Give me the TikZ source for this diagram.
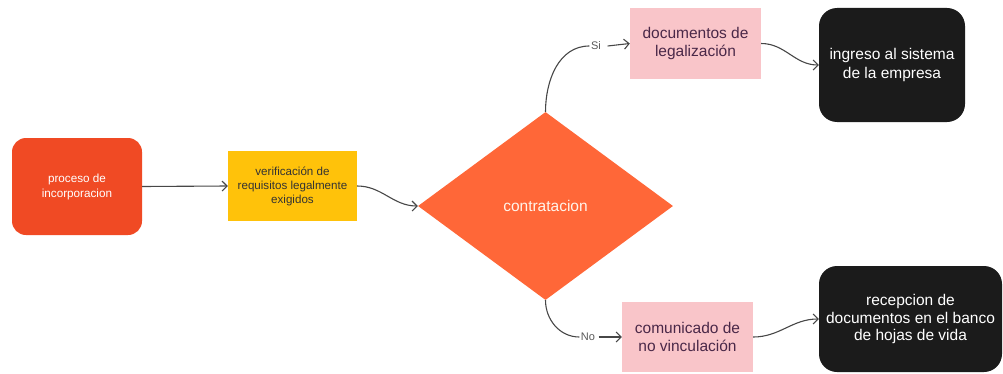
\documentclass[tikz,border=0pt]{standalone}
\usepackage{fontspec}
\setmainfont{Liberation Sans}
\usetikzlibrary{shapes.geometric,arrows.meta}

\definecolor{procred}{HTML}{F04A24}
\definecolor{verifyellow}{HTML}{FFC20A}
\definecolor{decorange}{HTML}{FF6738}
\definecolor{softpink}{HTML}{F9C5C9}
\definecolor{darkbox}{HTML}{1B1B1B}
\definecolor{pinktext}{HTML}{4A2848}
\definecolor{linegray}{HTML}{474747}

\tikzset{
  base/.style={inner sep=0pt, align=center, font=\fontsize{15.5}{18.5}\selectfont},
  startbox/.style={base, fill=procred, rounded corners=14pt, text=white,
    font=\fontsize{11.7}{15}\selectfont},
  checkbox/.style={base, fill=verifyellow, text=black!80,
    font=\fontsize{11.6}{14}\selectfont},
  decision/.style={base, diamond, fill=decorange, text=white!92!orange},
  pinkbox/.style={base, fill=softpink, text=pinktext},
  endbox/.style={base, fill=darkbox, rounded corners=18pt, text=white},
  branchlabel/.style={inner sep=1.5pt, fill=white, text=black!65,
    font=\fontsize{11}{12}\selectfont},
  flow/.style={draw=linegray, line width=1.1pt,
    -{Straight Barb[length=5pt,width=10pt,line width=1.1pt]}},
  link/.style={draw=linegray, line width=1.1pt},
}

\begin{document}
\begin{tikzpicture}[x=1pt,y=1pt]
  \useasboundingbox (0,0) rectangle (1003,373);

  % process nodes
  \node[startbox, minimum width=130pt, minimum height=97pt] (proc) at (77,186.5)
    {proceso de\\incorporacion};
  \node[checkbox, minimum width=129pt, minimum height=70pt] (verif) at (292.5,187)
    {verificación de\\requisitos legalmente\\exigidos};
  \node[decision, minimum width=255pt, minimum height=188pt] (dec) at (545.5,167)
    {contratacion};
  \node[pinkbox, minimum width=131pt, minimum height=71pt] (docs) at (695.5,329.5)
    {documentos de\\legalización};
  \node[endbox, minimum width=146pt, minimum height=114pt] (ingreso) at (892,308)
    {ingreso al sistema\\de la empresa};
  \node[pinkbox, minimum width=131pt, minimum height=70pt] (comun) at (687.5,36)
    {comunicado de\\no vinculación};
  \node[endbox, minimum width=183pt, minimum height=106pt,
    font=\fontsize{15.5}{17.5}\selectfont] (recep) at (910.5,54)
    {recepcion de\\documentos en el banco\\de hojas de vida};

  % branch labels
  \node[branchlabel] (si) at (596,327) {Si};
  \node[branchlabel] (no) at (588,36) {No};

  % connectors
  \draw[flow] (proc.east) -- (verif.west);
  \draw[flow] (verif.east) to[out=0,in=180] (dec.west);
  \draw[link] (dec.north) to[out=90,in=180] (si.west);
  \draw[flow] (si.east) ++(5,0) -- (docs.west);
  \draw[link] (dec.south) to[out=-90,in=180] (no.west);
  \draw[flow] (no.east) ++(2,0) -- (comun.west);
  \draw[flow] (docs.east) to[out=0,in=180] (ingreso.west);
  \draw[flow] (comun.east) to[out=0,in=180] (recep.west);
\end{tikzpicture}
\end{document}
